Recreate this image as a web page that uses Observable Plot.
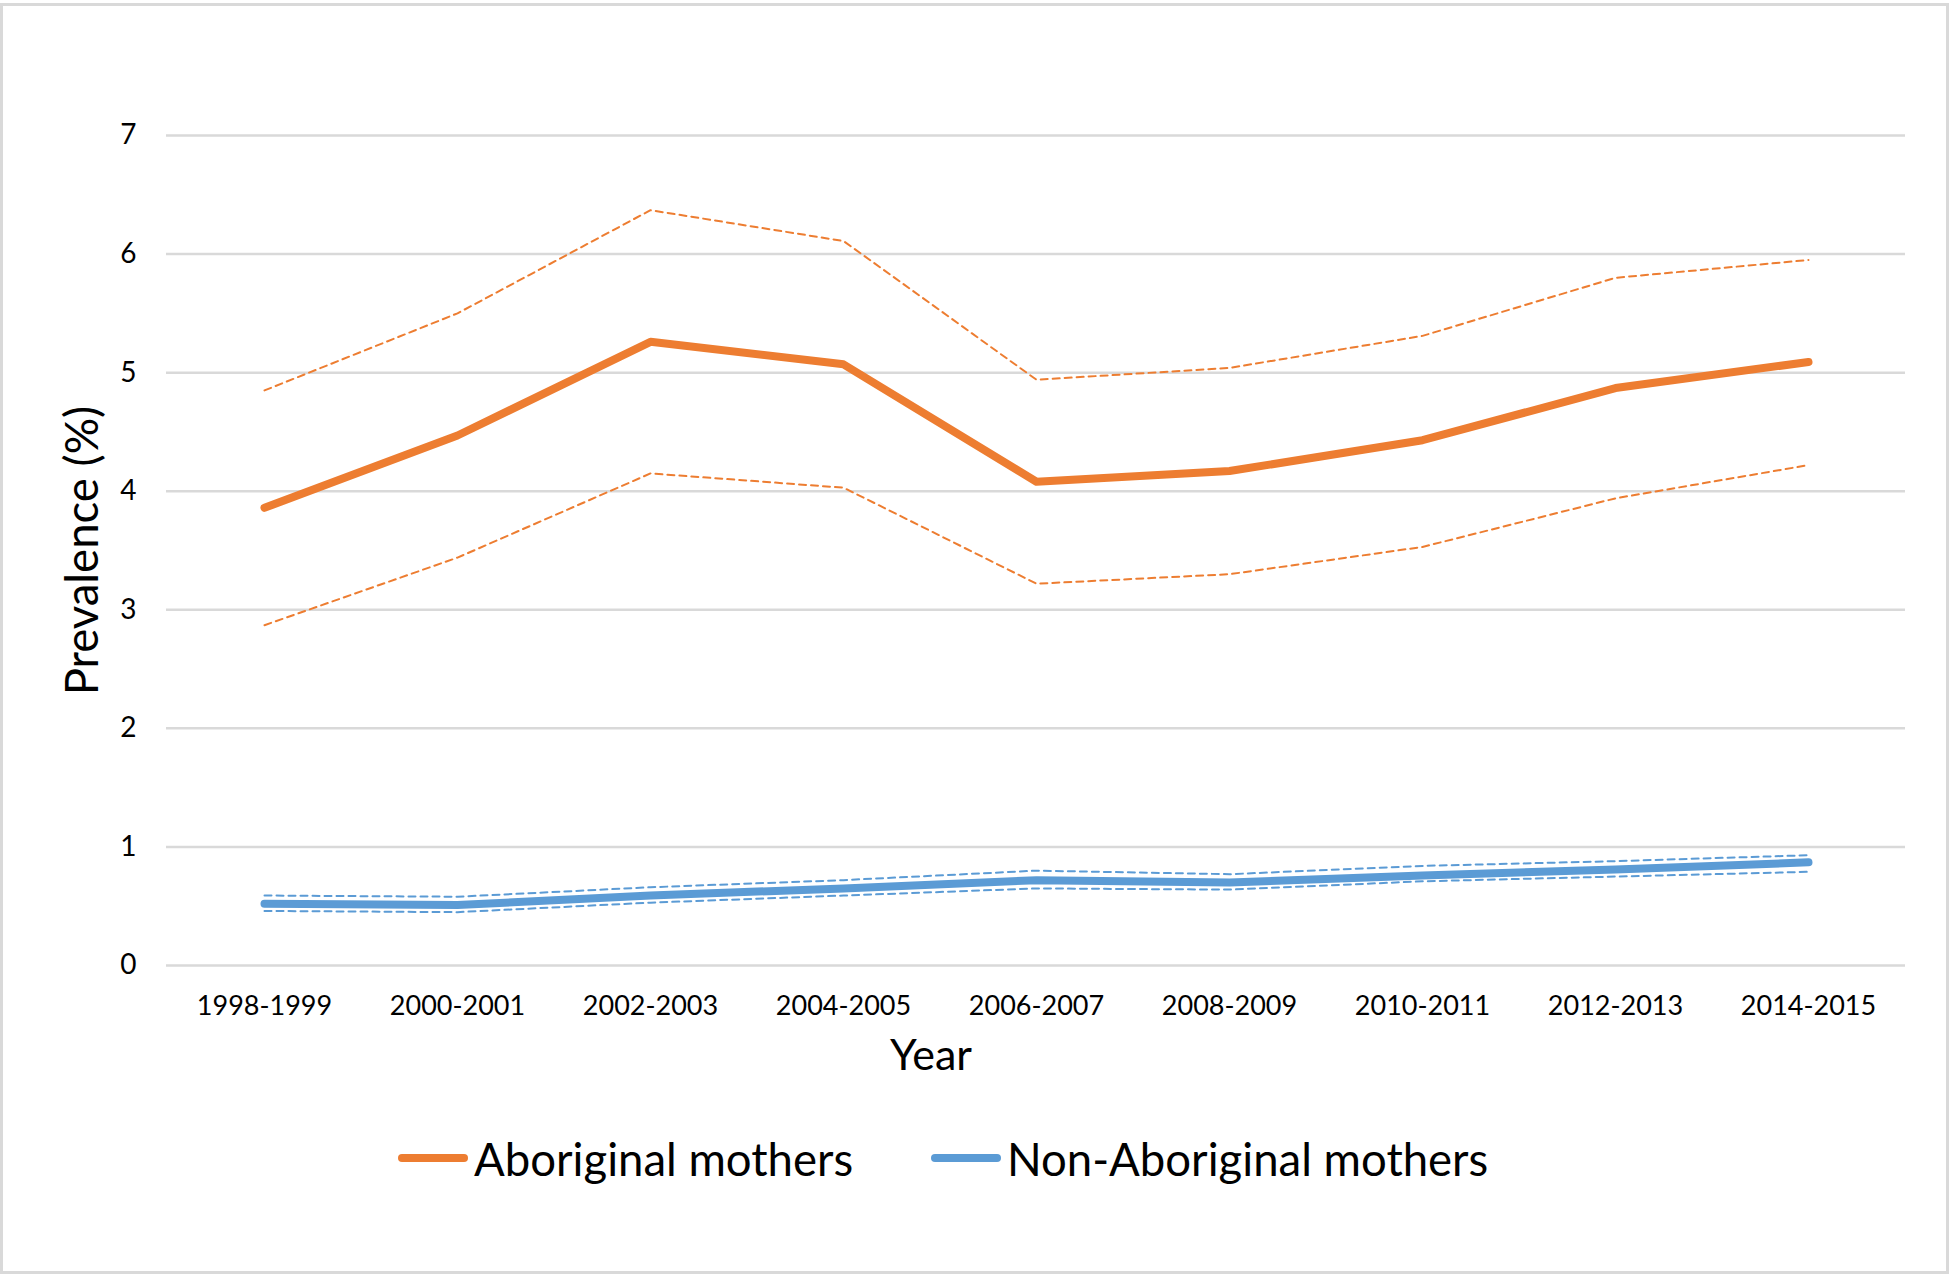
<!DOCTYPE html>
<html>
<head>
<meta charset="utf-8">
<script src="https://cdn.jsdelivr.net/npm/d3@7"></script>
<script src="https://cdn.jsdelivr.net/npm/@observablehq/plot@0.6"></script>
<style>
  html, body { margin: 0; padding: 0; background: #fff; }
  body { width: 1952px; height: 1276px; position: relative; overflow: hidden; font-family: Lato, "Open Sans", sans-serif; }
  #frame { position: absolute; left: 0; top: 3px; width: 1949px; height: 1271px; box-sizing: border-box; border: 3px solid #d9d9d9; pointer-events: none; }
  #chart { position: absolute; left: 0; top: 0; }
  .leg { position: absolute; top: 1128px; height: 60px; display: flex; align-items: center; }
  .sw { width: 70px; height: 8px; border-radius: 4px; margin-right: 6px; }
  .lt { font-size: 45.5px; color: #000; white-space: nowrap; }
</style>
</head>
<body>
<div id="chart"></div>
<div id="frame"></div>
<div class="leg" style="left:398px"><div class="sw" style="background:#ED7D31"></div><span class="lt">Aboriginal mothers</span></div>
<div class="leg" style="left:931px"><div class="sw" style="background:#5B9BD5"></div><span class="lt">Non-Aboriginal mothers</span></div>
<script>
const years = ["1998-1999", "2000-2001", "2002-2003", "2004-2005", "2006-2007", "2008-2009", "2010-2011", "2012-2013", "2014-2015"];
const yTicks = [0, 1, 2, 3, 4, 5, 6, 7];

const aboriginal      = [3.86, 4.47, 5.26, 5.07, 4.08, 4.17, 4.43, 4.87, 5.09];
const aboriginalUpper = [4.85, 5.50, 6.37, 6.11, 4.94, 5.04, 5.31, 5.80, 5.95];
const aboriginalLower = [2.87, 3.44, 4.15, 4.03, 3.22, 3.30, 3.53, 3.94, 4.22];

const nonAboriginal      = [0.52, 0.51, 0.59, 0.65, 0.72, 0.70, 0.76, 0.81, 0.87];
const nonAboriginalUpper = [0.59, 0.58, 0.66, 0.72, 0.80, 0.77, 0.84, 0.88, 0.93];
const nonAboriginalLower = [0.46, 0.45, 0.53, 0.59, 0.65, 0.64, 0.71, 0.75, 0.79];

const ORANGE = "#ED7D31";
const BLUE = "#5B9BD5";

const rows = (values) => years.map((year, i) => ({year, value: values[i]}));

const mainLine = (values, color) => Plot.line(rows(values), {
  x: "year", y: "value", stroke: color, strokeWidth: 8,
  strokeLinecap: "round", strokeLinejoin: "round"
});
const ciLine = (values, color) => Plot.line(rows(values), {
  x: "year", y: "value", stroke: color, strokeWidth: 2,
  strokeDasharray: "7,5"
});

const chart = Plot.plot({
  width: 1952,
  height: 1276,
  marginLeft: 166,
  marginRight: 47,
  marginTop: 135,
  marginBottom: 311,
  style: {fontFamily: "Lato, 'Open Sans', sans-serif", fontSize: "27px", color: "#000", background: "transparent", overflow: "visible"},
  x: {type: "point", domain: years, padding: 0.5, label: null},
  y: {domain: [0, 7], label: null},
  marks: [
    Plot.ruleY(yTicks, {stroke: "#d9d9d9", strokeWidth: 2.5}),
    Plot.axisY({ticks: yTicks, tickFormat: d => String(d), tickSize: 0, tickPadding: 30, label: null, fontSize: 28}),
    Plot.axisX({tickSize: 0, tickPadding: 30, label: null, fontSize: 27}),
    Plot.text(["Prevalence (%)"], {text: d => d, frameAnchor: "left", textAnchor: "middle", lineAnchor: "middle", rotate: -90, dx: -83, fontSize: 45.5, fill: "#000"}),
    Plot.text(["Year"], {text: d => d, frameAnchor: "bottom", textAnchor: "middle", lineAnchor: "middle", dx: -105, dy: 91, fontSize: 43, fill: "#000"}),
    ciLine(aboriginalUpper, ORANGE),
    ciLine(aboriginalLower, ORANGE),
    mainLine(aboriginal, ORANGE),
    ciLine(nonAboriginalUpper, BLUE),
    ciLine(nonAboriginalLower, BLUE),
    mainLine(nonAboriginal, BLUE)
  ]
});
document.getElementById("chart").append(chart);
</script>
</body>
</html>
